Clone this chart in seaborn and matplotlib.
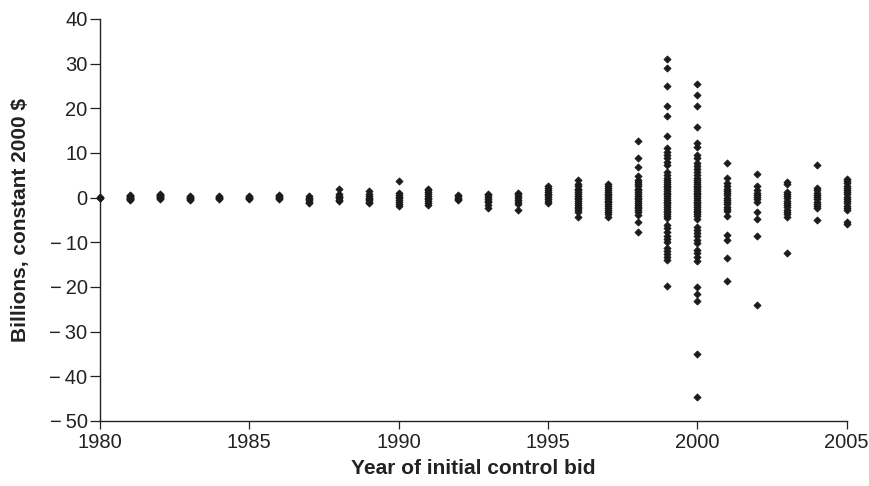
import numpy as np
import pandas as pd
import matplotlib
matplotlib.use("Agg")
import matplotlib.pyplot as plt
import seaborn as sns

# Net gains (billions, constant 2000 $) of control bids, grouped by year of initial bid
years = list(range(1980, 2006))

bids_1980 = [0.0, 0.1, -0.1]
bids_1981 = [0.6, 0.4, 0.2, 0.0, -0.2, -0.4, -0.6, 0.3, -0.3]
bids_1982 = [0.8, 0.5, 0.3, 0.1, -0.1, -0.3, 0.6, 0.2]
bids_1983 = [0.4, 0.2, 0.0, -0.2, -0.4, -0.5]
bids_1984 = [0.4, 0.2, 0.0, -0.2, -0.4]
bids_1985 = [0.4, 0.2, 0.0, -0.2, -0.4]
bids_1986 = [0.6, 0.3, 0.1, -0.1, -0.3]
bids_1987 = [0.3, 0.0, -0.3, -0.6, -0.9, -1.2]
bids_1988 = [1.9, 0.8, 0.4, 0.1, -0.2, -0.5, -0.8]
bids_1989 = [1.5, 0.7, 0.3, 0.0, -0.3, -0.6, -1.0, -1.3]
bids_1990 = [3.7, 1.0, 0.6, 0.2, -0.2, -0.6, -1.0, -1.4, -1.9]
bids_1991 = [2.0, 1.6, 1.2, 0.8, 0.4, 0.0, -0.4, -0.8, -1.2, -1.6]
bids_1992 = [0.6, 0.3, 0.0, -0.3, -0.6]
bids_1993 = [0.9, 0.5, 0.1, -0.3, -0.7, -1.1, -1.6, -2.3]
bids_1994 = [1.1, 0.7, 0.3, -0.1, -0.5, -0.9, -1.5, -2.8]
bids_1995 = [2.7, 2.2, 1.7, 1.3, 0.9, 0.5, 0.1, -0.3, -0.7, -1.2]
bids_1996 = [4.0, 3.0, 2.5, 2.0, 1.6, 1.2, 0.8, 0.4, 0.0, -0.4, -0.8, -1.2,
             -1.6, -2.0, -2.4, -2.8, -3.3, -4.3]
bids_1997 = [3.1, 2.6, 2.1, 1.7, 1.3, 0.9, 0.5, 0.1, -0.3, -0.7, -1.1, -1.5,
             -1.9, -2.3, -2.7, -3.2, -3.6, -4.3]
bids_1998 = [12.6, 8.8, 6.8, 4.9, 4.0, 3.5, 3.0, 2.5, 2.0, 1.6, 1.2, 0.8, 0.4,
             0.0, -0.4, -0.8, -1.2, -1.6, -2.0, -2.4, -2.8, -3.3, -3.9, -5.4, -7.6]
bids_1999 = [31.1, 29.1, 25.0, 20.5, 18.2, 13.7, 11.1, 10.3, 9.6, 8.8, 8.0, 7.3,
             5.8, 5.1, 4.3, 3.9, 3.5, 3.1, 2.7, 2.3, 1.9, 1.5, 1.1, 0.7, 0.3,
             -0.1, -0.5, -0.9, -1.3, -1.7, -2.1, -2.5, -2.9, -3.3, -3.7, -4.1,
             -4.6, -6.1, -6.9, -7.7, -8.5, -9.2, -9.9, -11.3, -12.0, -12.7,
             -13.4, -14.0, -19.9]
bids_2000 = [25.4, 23.0, 20.5, 15.8, 12.2, 11.4, 9.6, 8.8, 7.7, 7.0, 6.4, 5.7,
             5.1, 4.3, 3.9, 3.5, 3.1, 2.7, 2.3, 1.9, 1.5, 1.1, 0.7, 0.3, -0.1,
             -0.5, -0.9, -1.3, -1.7, -2.1, -2.5, -2.9, -3.3, -3.7, -4.1, -4.8,
             -6.5, -7.2, -8.0, -8.7, -9.5, -10.2, -11.7, -12.5, -13.3, -14.3,
             -20.1, -21.6, -23.1, -35.1, -44.6]
bids_2001 = [7.8, 4.3, 3.2, 2.6, 2.0, 1.5, 1.0, 0.5, 0.0, -0.5, -1.0, -1.5,
             -2.0, -2.5, -3.0, -4.1, -8.4, -9.6, -13.6, -18.7]
bids_2002 = [5.2, 2.7, 1.6, 1.1, 0.6, 0.1, -0.4, -0.9, -3.3, -4.8, -8.7, -24.1]
bids_2003 = [3.4, 3.0, 1.3, 0.8, 0.3, -0.2, -0.7, -1.2, -1.7, -2.2, -2.7, -3.2,
             -3.7, -4.3, -12.5]
bids_2004 = [7.2, 2.1, 1.6, 1.1, 0.6, 0.1, -0.4, -0.9, -1.4, -1.9, -2.4, -5.0]
bids_2005 = [4.2, 3.7, 3.2, 2.7, 2.2, 1.7, 1.2, 0.7, 0.2, -0.3, -0.8, -1.3,
             -1.8, -2.3, -2.8, -5.4, -6.0]

all_bids = [bids_1980, bids_1981, bids_1982, bids_1983, bids_1984, bids_1985,
            bids_1986, bids_1987, bids_1988, bids_1989, bids_1990, bids_1991,
            bids_1992, bids_1993, bids_1994, bids_1995, bids_1996, bids_1997,
            bids_1998, bids_1999, bids_2000, bids_2001, bids_2002, bids_2003,
            bids_2004, bids_2005]

x_ticks = [1980, 1985, 1990, 1995, 2000, 2005]
y_ticks = [-50, -40, -30, -20, -10, 0, 10, 20, 30, 40]

rows = [(yr, v) for yr, vals in zip(years, all_bids) for v in vals]
df = pd.DataFrame(rows, columns=["year", "value"])

sns.set_style("ticks")
plt.rcParams["font.family"] = ["Liberation Sans", "DejaVu Sans"]

fig = plt.figure(figsize=(8.7, 4.86), dpi=100)
ax = fig.add_axes([0.115, 0.134, 0.858, 0.827])

sns.scatterplot(data=df, x="year", y="value", ax=ax, marker="D", s=13,
                color="#1c1a1a", edgecolor="#1c1a1a", linewidth=0.6,
                clip_on=False, zorder=3)

ax.set_xlim(1980, 2005)
ax.set_ylim(-50, 40)
ax.set_xticks(x_ticks)
ax.set_yticks(y_ticks)
ax.set_yticklabels([("\u2212\u2009" + str(abs(t))) if t < 0 else str(t) for t in y_ticks])

sns.despine(ax=ax)
for side in ("left", "bottom"):
    ax.spines[side].set_linewidth(1.0)
    ax.spines[side].set_color("#222222")

ax.tick_params(axis="y", direction="out", length=7, width=0.9, colors="#222222",
               labelsize=14.5, pad=2)
ax.tick_params(axis="x", direction="out", length=6, width=0.9, colors="#222222",
               labelsize=14.5, pad=3)

ax.set_xlabel("Year of initial control bid", fontsize=15, fontweight="bold",
              color="#222222", labelpad=5)
ax.set_ylabel("Billions, constant 2000 $", fontsize=15, fontweight="bold",
              color="#222222", labelpad=14)

fig.savefig("out.png", dpi=100)
